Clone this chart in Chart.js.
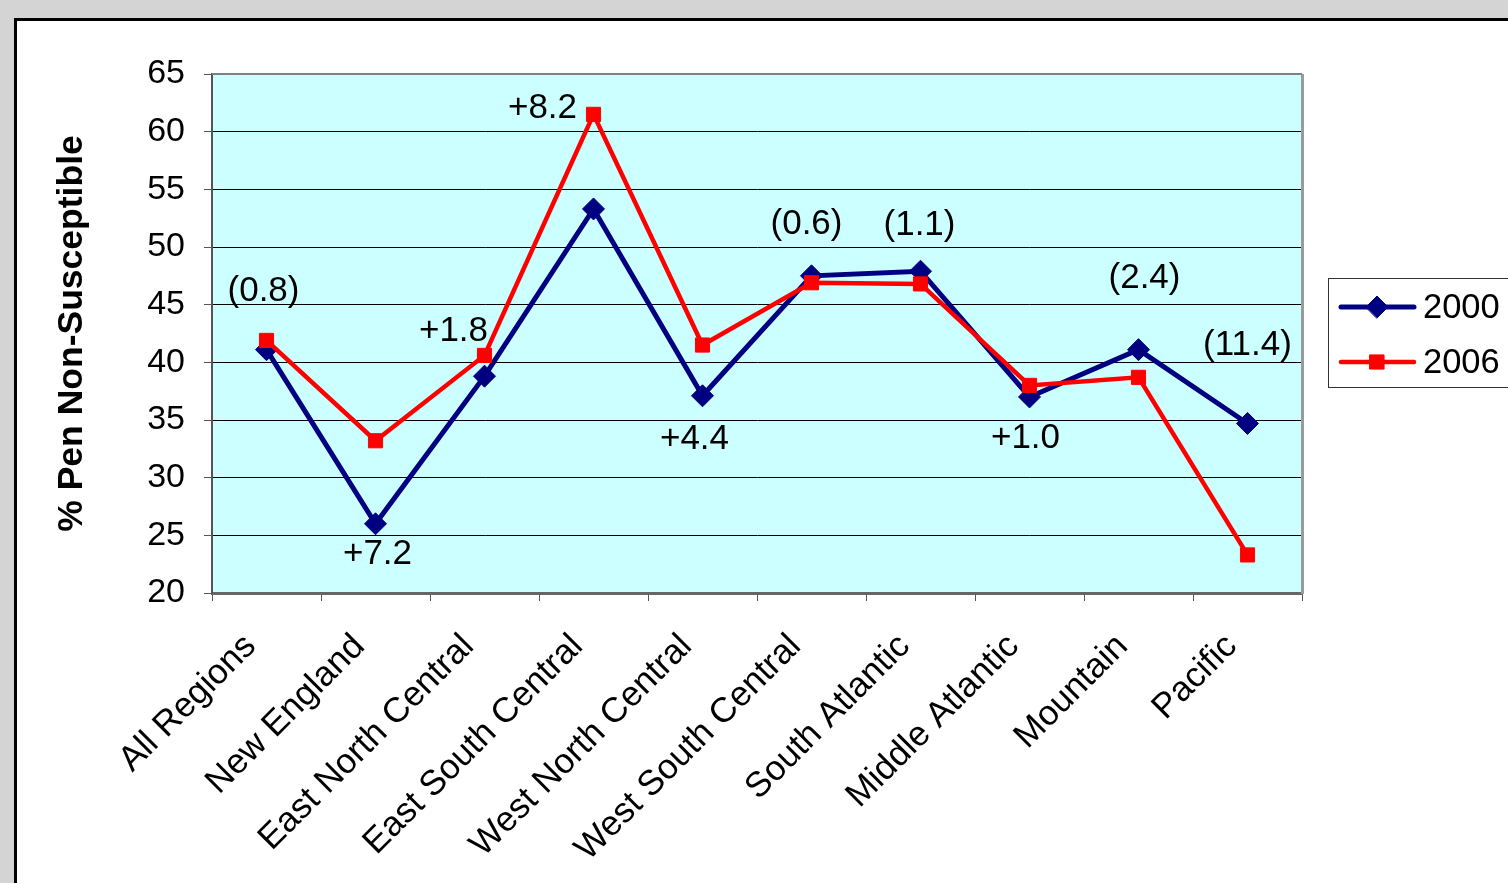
<!DOCTYPE html>
<html>
<head>
<meta charset="utf-8">
<title>% Pen Non-Susceptible by Region, 2000 vs 2006</title>
<script src="https://cdn.jsdelivr.net/npm/chart.js@4/dist/chart.umd.min.js"></script>
<style>
  html, body { margin: 0; padding: 0; background: #d4d4d4; overflow: hidden; }
  #panel { position: absolute; left: 14px; top: 18px; width: 1600px; height: 1000px;
           border: 3px solid #000; background: #fff; }
  #chart { position: absolute; left: 0; top: 0; }
</style>
</head>
<body>
<div id="panel"></div>
<canvas id="chart" width="1508" height="883"></canvas>
<script>
// Regions along the x axis
const categories = ['All Regions', 'New England', 'East North Central', 'East South Central',
  'West North Central', 'West South Central', 'South Atlantic', 'Middle Atlantic', 'Mountain', 'Pacific'];

// % penicillin non-susceptible, by survey year
const pct2000 = [41.1, 26.0, 38.8, 53.3, 37.1, 47.5, 47.9, 37.0, 41.1, 34.7];
const pct2006 = [41.9, 33.2, 40.6, 61.5, 41.5, 46.9, 46.8, 38.0, 38.7, 23.3];

// Change labels shown beside each region
const changeLabels = ['(0.8)', '+7.2', '+1.8', '+8.2', '+4.4', '(0.6)', '(1.1)', '+1.0', '(2.4)', '(11.4)'];

// Y axis range and step
const yMin = 20, yMax = 65, yStep = 5;

const FONT = '"Liberation Sans", Arial, Helvetica, sans-serif';

// Pixel offsets of each change label from the 2000 point of its region
const changeLabelOffsets = [
  [-3, -58], [2, 31], [-31, -45], [-51, -101], [-8, 44],
  [-5, -51], [-1, -46], [-4, 41], [6, -71], [0, -78]
];

const plotDecor = {
  id: 'plotDecor',
  beforeDraw(chart) {
    const { ctx, chartArea: a } = chart;
    ctx.save();
    ctx.fillStyle = '#ccffff';
    ctx.fillRect(a.left, a.top, a.right - a.left, a.bottom - a.top);
    ctx.restore();
  },
  beforeDatasetsDraw(chart) {
    const { ctx, chartArea: a } = chart;
    ctx.save();
    // right border of the plot area
    ctx.strokeStyle = '#9a9a9a';
    ctx.lineWidth = 3;
    ctx.beginPath();
    ctx.moveTo(a.right + 0.5, a.top);
    ctx.lineTo(a.right + 0.5, a.bottom + 1);
    ctx.stroke();
    // top border
    ctx.strokeStyle = '#808080';
    ctx.lineWidth = 2;
    ctx.beginPath();
    ctx.moveTo(a.left, a.top);
    ctx.lineTo(a.right, a.top);
    ctx.stroke();
    ctx.restore();
  },
  afterDraw(chart) {
    const { ctx } = chart;
    const meta2000 = chart.getDatasetMeta(0);
    ctx.save();
    // change labels
    ctx.font = '35px ' + FONT;
    ctx.fillStyle = '#000';
    ctx.textAlign = 'center';
    ctx.textBaseline = 'middle';
    changeLabels.forEach((txt, i) => {
      const pt = meta2000.data[i];
      const [dx, dy] = changeLabelOffsets[i];
      ctx.fillText(txt, pt.x + dx, pt.y + dy);
    });

    // legend box
    const bx = 1328.5, by = 278.5, bw = 220, bh = 109;
    ctx.fillStyle = '#fff';
    ctx.fillRect(bx, by, bw, bh);
    ctx.strokeStyle = '#333';
    ctx.lineWidth = 1;
    ctx.strokeRect(bx, by, bw, bh);
    const rows = [307, 362];
    chart.data.datasets.forEach((ds, i) => {
      const y = rows[i];
      ctx.strokeStyle = ds.borderColor;
      ctx.lineWidth = ds.borderWidth;
      ctx.lineCap = 'round';
      ctx.beginPath();
      ctx.moveTo(1341, y);
      ctx.lineTo(1414, y);
      ctx.stroke();
      ctx.fillStyle = ds.pointBackgroundColor;
      ctx.strokeStyle = ds.pointBorderColor;
      ctx.lineWidth = ds.pointBorderWidth;
      Chart.helpers.drawPoint(ctx, { pointStyle: ds.pointStyle, radius: ds.pointRadius, borderWidth: ds.pointBorderWidth, rotation: 0 }, 1377, y);
      ctx.fillStyle = '#000';
      ctx.font = '34.5px ' + FONT;
      ctx.textAlign = 'left';
      ctx.textBaseline = 'middle';
      ctx.fillText(ds.label, 1423, y + 1);
    });
    ctx.restore();
  }
};

new Chart(document.getElementById('chart'), {
  type: 'line',
  data: {
    labels: categories,
    datasets: [
      {
        label: '2000',
        data: pct2000,
        order: 1,
        borderColor: '#000080',
        borderWidth: 5,
        pointStyle: 'rectRot',
        pointRadius: 11,
        pointHoverRadius: 11,
        pointBackgroundColor: '#000080',
        pointBorderColor: '#000080',
        pointBorderWidth: 1,
        tension: 0
      },
      {
        label: '2006',
        data: pct2006,
        order: 0,
        borderColor: '#ff0000',
        borderWidth: 4.5,
        pointStyle: 'rect',
        pointRadius: 10,
        pointHoverRadius: 10,
        pointBackgroundColor: '#ff0000',
        pointBorderColor: '#ff0000',
        pointBorderWidth: 1,
        tension: 0
      }
    ]
  },
  options: {
    responsive: false,
    animation: false,
    devicePixelRatio: 1,
    layout: { padding: { top: 74, right: 206, left: 0, bottom: 0 } },
    plugins: {
      legend: { display: false },
      tooltip: { enabled: false }
    },
    scales: {
      x: {
        type: 'category',
        offset: true,
        grid: {
          display: true,
          offset: true,
          drawOnChartArea: false,
          tickLength: 8,
          tickColor: '#555'
        },
        border: { display: true, color: '#666', width: 3 },
        ticks: {
          autoSkip: false,
          minRotation: 45,
          maxRotation: 45,
          padding: 25,
          labelOffset: -16,
          color: '#000',
          font: { family: FONT, size: 35 }
        },
        afterFit(scale) { scale.height = 883 - 593; }
      },
      y: {
        min: yMin,
        max: yMax,
        grid: {
          color: (c) => (c.tick && c.tick.value === yMax ? '#808080' : '#000'),
          lineWidth: 1,
          tickLength: 8,
          tickColor: '#555'
        },
        border: { display: true, color: '#555', width: 2 },
        ticks: {
          stepSize: yStep,
          padding: 19,
          color: '#000',
          font: { family: FONT, size: 34 }
        },
        title: {
          display: true,
          text: '% Pen Non-Susceptible',
          color: '#000',
          font: { family: FONT, size: 35.5, weight: 'bold' },
          padding: { top: 51, bottom: 0 }
        },
        afterFit(scale) { scale.width = 212; }
      }
    }
  },
  plugins: [plotDecor]
});
</script>
</body>
</html>
